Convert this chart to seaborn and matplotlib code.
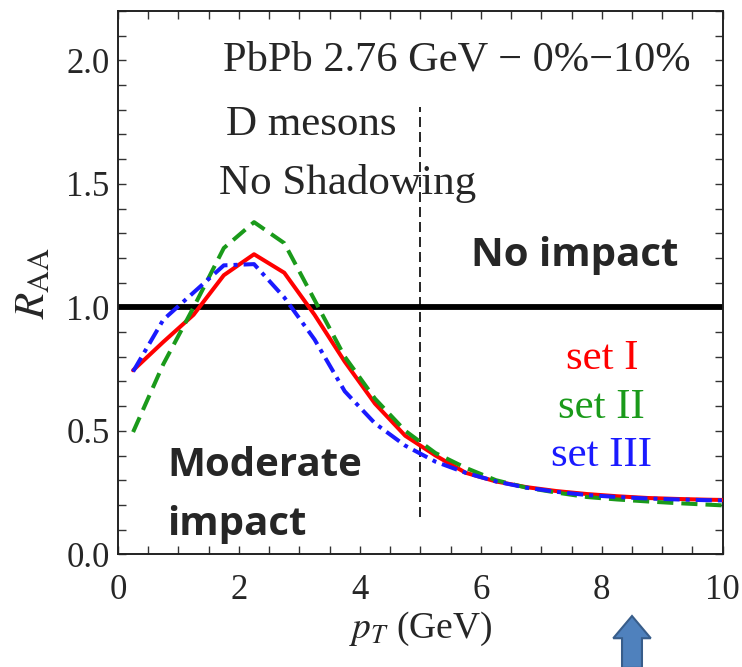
import numpy as np
import pandas as pd
import matplotlib
matplotlib.use("Agg")
import matplotlib.pyplot as plt
import matplotlib.patches as mpatches
from matplotlib.ticker import MultipleLocator
import seaborn as sns

# values
pt = [0.25, 0.75, 1.25, 1.75, 2.25, 2.75, 3.25, 3.75, 4.25, 4.75, 5.25,
      5.75, 6.25, 6.75, 7.25, 7.75, 8.25, 8.75, 9.25, 9.75, 10.0]
raa_set1 = [0.745, 0.86, 0.97, 1.13, 1.215, 1.14, 0.97, 0.78, 0.61, 0.48, 0.40,
            0.33, 0.295, 0.272, 0.256, 0.244, 0.235, 0.228, 0.224, 0.221, 0.22]
raa_set2 = [0.495, 0.77, 1.0, 1.24, 1.345, 1.26, 1.03, 0.80, 0.63, 0.50, 0.41,
            0.35, 0.30, 0.27, 0.25, 0.232, 0.222, 0.214, 0.207, 0.201, 0.198]
raa_set3 = [0.74, 0.95, 1.06, 1.17, 1.175, 1.04, 0.87, 0.66, 0.53, 0.44, 0.375,
            0.33, 0.295, 0.27, 0.253, 0.24, 0.232, 0.226, 0.222, 0.219, 0.218]
set_names = ["set I", "set II", "set III"]
set_colors = ["#ff0000", "#1a9a1a", "#1a1aff"]
ytick_vals = [0.0, 0.5, 1.0, 1.5, 2.0]

df = pd.DataFrame({
    "pt": pt * 3,
    "raa": raa_set1 + raa_set2 + raa_set3,
    "set": sum([[n] * len(pt) for n in set_names], []),
})

sns.set_style("ticks")
plt.rcParams["font.family"] = ["Liberation Serif", "DejaVu Serif"]
plt.rcParams["mathtext.fontset"] = "stix"

fig = plt.figure(figsize=(7.42, 6.67), dpi=100)
ax = fig.add_axes([0.159, 0.169, 0.815, 0.8145])

# reference line at 1
ax.axhline(1.0, color="black", lw=4.2, zorder=2)

dashes = {"set I": None, "set II": (4, 2), "set III": (4, 1.5, 1, 1.5)}
for name, col in zip(set_names, set_colors):
    sns.lineplot(data=df[df["set"] == name], x="pt", y="raa", color=col, lw=2.9,
                 ax=ax, legend=False, zorder=3)
    if dashes[name] is not None:
        ax.lines[-1].set_dashes(dashes[name])

# vertical dashed separator
ax.plot([5, 5], [0.15, 1.81], color="black", lw=1.2, dashes=(6, 3), zorder=2)

ax.set_xlim(0, 10)
ax.set_ylim(0, 2.2)
ax.xaxis.set_major_locator(MultipleLocator(2))
ax.xaxis.set_minor_locator(MultipleLocator(0.5))
ax.yaxis.set_minor_locator(MultipleLocator(0.1))
ax.set_yticks(ytick_vals)
ax.set_yticklabels([f"{v:.1f}" for v in ytick_vals])
ax.tick_params(which="both", direction="in", top=True, right=True,
               length=6, width=1.0, labelsize=25, color="#333333")
ax.tick_params(axis="x", pad=14)
ax.tick_params(axis="y", pad=6)
for s in ax.spines.values():
    s.set_linewidth(1.4)
    s.set_color("#222222")

ax.set_xlabel(r"$p_T$ (GeV)", fontsize=27, labelpad=2)
ax.set_ylabel(r"$R_{\rm AA}$", fontsize=31, labelpad=9)

ax.text(5.6, 2.0, "PbPb 2.76 GeV \u2212 0%\u221210%", fontsize=30.5,
        ha="center", va="center")
ax.text(3.2, 1.74, "D mesons", fontsize=31, ha="center", va="center")
ax.text(3.8, 1.5, "No Shadowing", fontsize=31, ha="center", va="center")

bold = ["Open Sans", "DejaVu Sans"]
ax.text(7.55, 1.21, "No impact", fontsize=29, fontweight="bold", family=bold,
        ha="center", va="center")
ax.text(0.82, 0.36, "Moderate", fontsize=29, fontweight="bold", family=bold,
        ha="left", va="center")
ax.text(0.82, 0.12, "impact", fontsize=29, fontweight="bold", family=bold,
        ha="left", va="center")

for i, (name, col) in enumerate(zip(set_names, set_colors)):
    ax.text(8.0, 0.79 - i * 0.195, name, color=col, fontsize=31,
            ha="center", va="center")

arrow = mpatches.FancyArrow(8.5, -0.46, 0, 0.21, width=0.33, head_width=0.62,
                            head_length=0.09, length_includes_head=True,
                            facecolor="#4f81bd", edgecolor="#385d8a", lw=1.5,
                            clip_on=False, zorder=5)
ax.add_patch(arrow)

fig.savefig("out.png", dpi=100)
